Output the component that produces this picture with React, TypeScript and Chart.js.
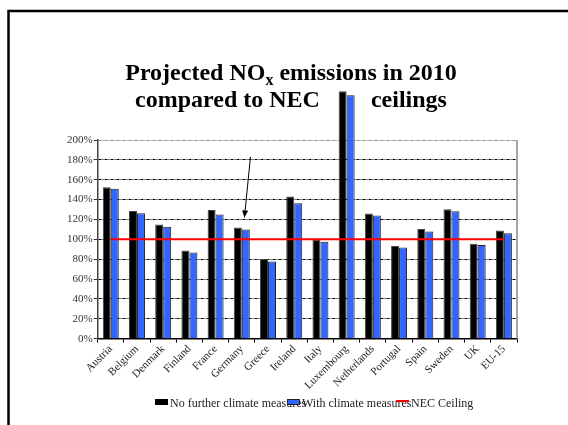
import React, { useEffect, useRef } from 'react';
import { Chart, registerables } from 'chart.js';

Chart.register(...registerables);

const categories = ['Austria', 'Belgium', 'Denmark', 'Finland', 'France', 'Germany', 'Greece', 'Ireland', 'Italy', 'Luxembourg', 'Netherlands', 'Portugal', 'Spain', 'Sweden', 'UK', 'EU-15'];
const noFurtherMeasures = [152.5, 128.6, 115, 88.7, 129.6, 111.9, 80.1, 143, 99.5, 249, 126, 93.2, 110.5, 130.3, 95.5, 108.8];
const withClimateMeasures = [151, 126.3, 112.6, 86.7, 125, 109.9, 77.7, 136.4, 97.5, 245, 124, 91.8, 107.8, 128.3, 94.2, 106.2];
const necCeiling = [100, 100, 100, 100, 100, 100, 100, 100, 100, 100, 100, 100, 100, 100, 100, 100];
const seriesLabels = ['No further climate measures', 'With climate measures', 'NEC Ceiling'];
const yMin = 0;
const yMax = 200;
const yStep = 20;
const titleLine1 = ['Projected NO', 'x', ' emissions in 2010'];
const titleLine2 = ['compared to NEC', 'ceilings'];
const arrowFrom = { index: 5.33, value: 183 };
const arrowTo = { index: 5.1, value: 122 };

const SERIF = '"Liberation Serif", "Times New Roman", serif';
const BLUE = '#3366ff';

function drawLegendIcon(ctx: CanvasRenderingContext2D, i: number, x: number, y: number) {
  if (i === 0) {
    ctx.fillStyle = '#000';
    ctx.fillRect(x, y, 13, 6);
  } else if (i === 1) {
    ctx.fillStyle = '#222';
    ctx.fillRect(x, y, 13, 6);
    ctx.fillStyle = BLUE;
    ctx.fillRect(x + 1, y + 1, 11, 4);
  } else {
    ctx.fillStyle = '#ff0000';
    ctx.fillRect(x, y + 1, 13, 2);
  }
}

const decorPlugin = {
  id: 'decor',
  beforeDraw(chart: any) {
    const ctx = chart.ctx as CanvasRenderingContext2D;
    ctx.save();
    // slide frame
    ctx.strokeStyle = '#000';
    ctx.lineWidth = 2.5;
    ctx.beginPath();
    ctx.moveTo(8.5, 425);
    ctx.lineTo(8.5, 11);
    ctx.lineTo(568, 11);
    ctx.stroke();
    // title
    const cx = 291;
    const big = `bold 24px ${SERIF}`;
    const small = `bold 16px ${SERIF}`;
    ctx.fillStyle = '#000';
    ctx.textAlign = 'left';
    ctx.textBaseline = 'alphabetic';
    ctx.font = big;
    const a = ctx.measureText(titleLine1[0]).width;
    const c2 = ctx.measureText(titleLine1[2]).width;
    ctx.font = small;
    const b = ctx.measureText(titleLine1[1]).width;
    let x = cx - (a + b + c2) / 2;
    const y1 = 80;
    ctx.font = big;
    ctx.fillText(titleLine1[0], x, y1);
    x += a;
    ctx.font = small;
    ctx.fillText(titleLine1[1], x, y1 + 5);
    x += b;
    ctx.font = big;
    ctx.fillText(titleLine1[2], x, y1);
    const gap = 51;
    const d = ctx.measureText(titleLine2[0]).width;
    const e = ctx.measureText(titleLine2[1]).width;
    const x2 = cx - (d + gap + e) / 2;
    const y2 = 107;
    ctx.fillText(titleLine2[0], x2, y2);
    ctx.fillText(titleLine2[1], x2 + d + gap, y2);
    // legend (entries laid out tightly, as in the original slide)
    const entryX = [155, 287, 396];
    ctx.font = `12px ${SERIF}`;
    ctx.textBaseline = 'alphabetic';
    seriesLabels.forEach((t, i) => {
      drawLegendIcon(ctx, i, entryX[i], 399);
      ctx.fillStyle = '#222';
      ctx.fillText(t, entryX[i] + 15, 407);
    });
    ctx.restore();
  },
  afterDraw(chart: any) {
    const ctx = chart.ctx as CanvasRenderingContext2D;
    const { chartArea } = chart;
    ctx.save();
    ctx.strokeStyle = '#888';
    ctx.lineWidth = 1.5;
    ctx.beginPath();
    ctx.moveTo(chartArea.right, chartArea.top);
    ctx.lineTo(chartArea.right, chartArea.bottom);
    ctx.stroke();
    // arrow annotation
    const xs = chart.scales.x;
    const ys = chart.scales.y;
    const x0 = xs.getPixelForValue(arrowFrom.index);
    const y0 = ys.getPixelForValue(arrowFrom.value);
    const x1 = xs.getPixelForValue(arrowTo.index);
    const y1 = ys.getPixelForValue(arrowTo.value);
    ctx.strokeStyle = '#000';
    ctx.fillStyle = '#000';
    ctx.lineWidth = 1;
    ctx.beginPath();
    ctx.moveTo(x0, y0);
    ctx.lineTo(x1, y1);
    ctx.stroke();
    const ang = Math.atan2(y1 - y0, x1 - x0);
    const len = 7;
    const hw = 3;
    ctx.beginPath();
    ctx.moveTo(x1, y1);
    ctx.lineTo(x1 - len * Math.cos(ang) + hw * Math.sin(ang), y1 - len * Math.sin(ang) - hw * Math.cos(ang));
    ctx.lineTo(x1 - len * Math.cos(ang) - hw * Math.sin(ang), y1 - len * Math.sin(ang) + hw * Math.cos(ang));
    ctx.closePath();
    ctx.fill();
    ctx.restore();
  },
};

export default function App() {
  const ref = useRef<HTMLCanvasElement | null>(null);

  useEffect(() => {
    if (!ref.current) return;
    const chart = new Chart(ref.current, {
      type: 'bar',
      data: {
        labels: categories,
        datasets: [
          {
            type: 'bar',
            label: seriesLabels[0],
            data: noFurtherMeasures,
            backgroundColor: '#000',
            borderColor: '#444',
            borderWidth: 1,
            clip: false as any,
            order: 2,
          },
          {
            type: 'bar',
            label: seriesLabels[1],
            data: withClimateMeasures,
            backgroundColor: BLUE,
            borderColor: '#222',
            borderWidth: 1,
            clip: false as any,
            order: 2,
          },
          {
            type: 'line',
            label: seriesLabels[2],
            data: necCeiling,
            borderColor: '#ff0000',
            backgroundColor: '#ff0000',
            borderWidth: 2,
            pointRadius: 0,
            fill: false,
            order: 1,
          } as any,
        ],
      },
      options: {
        animation: false,
        responsive: false,
        maintainAspectRatio: false,
        layout: { padding: { top: 140, left: 66, right: 51, bottom: 33 } },
        datasets: { bar: { categoryPercentage: 0.61, barPercentage: 1 } } as any,
        plugins: {
          title: { display: false },
          tooltip: { enabled: false },
          legend: { display: false },
        },
        scales: {
          x: {
            offset: true,
            grid: {
              display: true,
              offset: true,
              drawOnChartArea: false,
              drawTicks: true,
              tickLength: 4,
              tickColor: '#000',
              tickWidth: 1,
            },
            border: { display: true, color: '#000', width: 1.5 },
            ticks: {
              autoSkip: false,
              minRotation: 45,
              maxRotation: 45,
              padding: 0,
              color: '#222',
              font: { family: SERIF, size: 11 },
            },
          },
          y: {
            min: yMin,
            max: yMax,
            grid: {
              color: (c: any) => (c.tick && c.tick.value === yMax ? '#888' : '#000'),
              lineWidth: 1,
              drawTicks: true,
              tickLength: 4,
              tickColor: '#333',
              tickWidth: 1,
              tickBorderDash: [],
            } as any,
            border: { display: true, color: '#444', width: 1.5, dash: [3, 1, 1, 1] },
            ticks: {
              stepSize: yStep,
              padding: 1,
              color: '#333',
              font: { family: SERIF, size: 11 },
              callback: (v: any) => `${v}%`,
            },
          },
        },
      },
      plugins: [decorPlugin],
    });
    return () => chart.destroy();
  }, []);

  return (
    <div style={{ position: 'fixed', left: 0, top: 0, width: 568, height: 425, background: '#fff' }}>
      <canvas ref={ref} width={568} height={425} style={{ display: 'block', width: 568, height: 425 }} />
    </div>
  );
}
